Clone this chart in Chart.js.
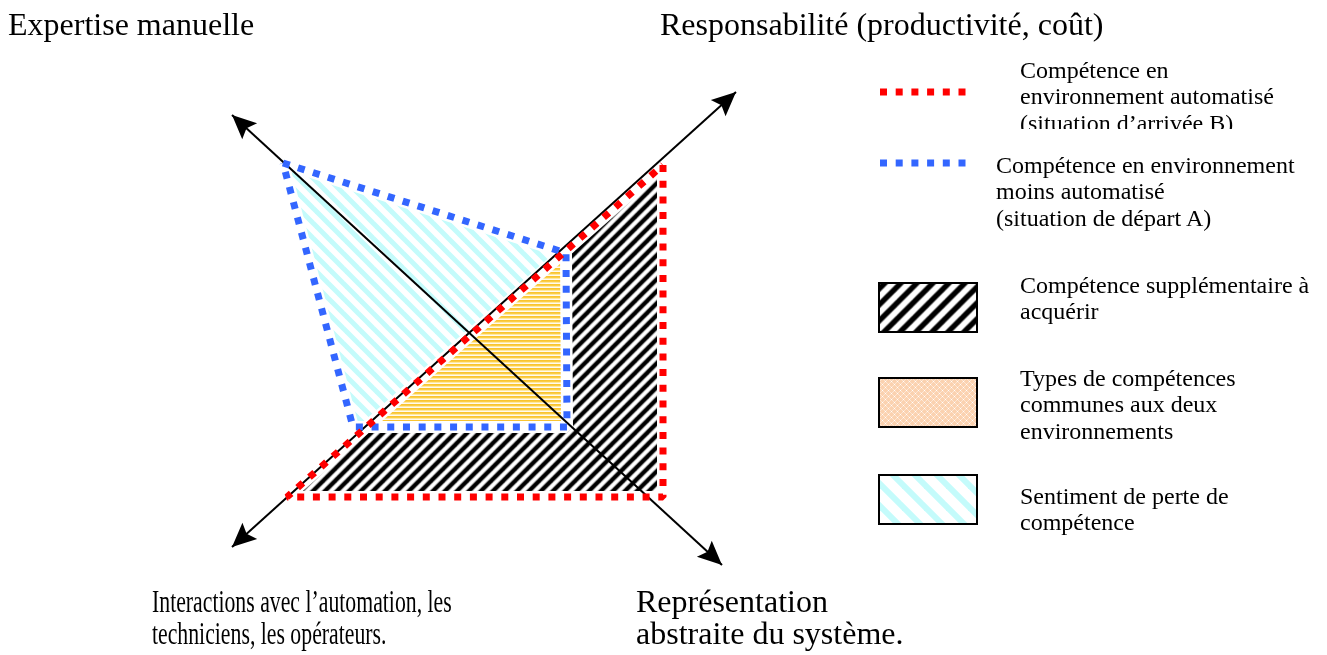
<!DOCTYPE html>
<html><head><meta charset="utf-8">
<script src="https://cdn.jsdelivr.net/npm/chart.js@4.4.1/dist/chart.umd.min.js"></script>
<style>
html,body{margin:0;padding:0;background:#fff;}
#wrap{position:relative;width:1327px;height:655px;overflow:hidden;font-family:"Liberation Serif","Times New Roman",serif;color:#000;}
#c{position:absolute;left:0;top:0;}
.lbl{position:absolute;font-size:32px;line-height:32px;white-space:pre;}
.leg{position:absolute;font-size:24px;line-height:26.3px;white-space:pre;overflow:hidden;}
</style></head><body>
<div id="wrap"><canvas id="c" width="1327" height="655"></canvas></div>
<script>
// ---------- data (units along the diagram plane, origin at the crossing of the axes) ----------
const axisLabels = [
  "Expertise manuelle",
  "Responsabilité (productivité, coût)",
  "Interactions avec l’automation, les\ntechniciens, les opérateurs.",
  "Représentation\nabstraite du système."
];
const legendLabels = [
  "Compétence en\nenvironnement automatisé\n(situation d’arrivée B)",
  "Compétence en environnement\nmoins automatisé\n(situation de départ A)",
  "Compétence supplémentaire à\nacquérir",
  "Types de compétences\ncommunes aux deux\nenvironnements",
  "Sentiment de perte de\ncompétence"
];
// axis "Expertise manuelle" <-> "Représentation abstraite"
const axisExpertiseRepresentation = [{x:-23.7, y:21.8}, {x:25.3, y:-23.2}];
// axis "Interactions" <-> "Responsabilité"
const axisInteractionsResponsabilite = [{x:-23.7, y:-21.4}, {x:26.7, y:24.1}];
// situation d'arrivée B (automatisé)
const situationB = [{x:19.4, y:16.8}, {x:19.4, y:-16.4}, {x:-18.2, y:-16.4}, {x:19.4, y:16.8}];
// situation de départ A (moins automatisé)
const situationA = [{x:-18.6, y:17.0}, {x:9.7, y:8.0}, {x:9.8, y:-9.4}, {x:-11.6, y:-9.4}, {x:-18.6, y:17.0}];
// compétences communes (A ∩ B)
const communes = [{x:9.7, y:8.2}, {x:9.8, y:-9.4}, {x:-10.3, y:-9.4}, {x:9.7, y:8.2}];

// ---------- text layout ----------
const wrap = document.getElementById('wrap');
const labelPos = [
  {left:8, top:8, sx:1}, {left:660, top:8, sx:1}, {left:152, top:585, sx:0.68}, {left:636, top:585, sx:1}
];
axisLabels.forEach((t,i)=>{
  const d=document.createElement('div'); d.className='lbl'; d.textContent=t;
  d.style.left=labelPos[i].left+'px'; d.style.top=labelPos[i].top+'px';
  if(labelPos[i].sx!==1){d.style.transform='scaleX('+labelPos[i].sx+')'; d.style.transformOrigin='0 0';}
  wrap.appendChild(d);
});
const legendPos = [
  {left:1020, top:57, h:72}, {left:996, top:152}, {left:1020, top:272}, {left:1020, top:365}, {left:1020, top:483}
];
legendLabels.forEach((t,i)=>{
  const d=document.createElement('div'); d.className='leg'; d.textContent=t;
  d.style.left=legendPos[i].left+'px'; d.style.top=legendPos[i].top+'px';
  if(legendPos[i].h) d.style.height=legendPos[i].h+'px';
  wrap.appendChild(d);
});

// ---------- patterns ----------
const cv = document.getElementById('c');
const ctx = cv.getContext('2d');
function stripes(size, dir, color, width, bg, soft){
  const c=document.createElement('canvas'); c.width=c.height=size; const x=c.getContext('2d');
  x.fillStyle=bg; x.fillRect(0,0,size,size);
  const pass=(col,w)=>{ x.strokeStyle=col; x.lineWidth=w;
    for(let k=-2;k<=2;k++){ x.beginPath();
      if(dir==='/'){x.moveTo(k*size-size,2*size);x.lineTo(k*size+2*size,-size);}
      else {x.moveTo(k*size-size,-size);x.lineTo(k*size+2*size,2*size);}
      x.stroke(); } };
  if(soft) pass(soft, width+2);
  pass(color, width);
  return ctx.createPattern(c,'repeat');
}
function hlines(){
  const c=document.createElement('canvas'); c.width=4; c.height=4; const x=c.getContext('2d');
  const rows=['#f9c431','#fbcd45','#ffe9a0','#fffaf0'];
  rows.forEach((r,i)=>{x.fillStyle=r; x.fillRect(0,i,4,1);});
  return ctx.createPattern(c,'repeat');
}
function peach(){
  const c=document.createElement('canvas'); c.width=6; c.height=6; const x=c.getContext('2d');
  x.fillStyle='#fbd2b0'; x.fillRect(0,0,6,6);
  x.fillStyle='#ffffff'; x.fillRect(0,0,1,1); x.fillRect(3,3,1,1);
  x.fillStyle='#fde6d4'; x.fillRect(1,1,1,1); x.fillRect(2,2,1,1); x.fillRect(4,4,1,1); x.fillRect(5,5,1,1);
  x.fillRect(1,5,1,1); x.fillRect(2,4,1,1); x.fillRect(4,2,1,1); x.fillRect(5,1,1,1);
  return ctx.createPattern(c,'repeat');
}
const blackHatch = stripes(12,'/','#000',3.4,'#fff','#8a8a8a');
const cyanHatch = stripes(15,'\\','#c4fbfb',5,'#fff');
const yellowLines = hlines();
const blackHatchLeg = stripes(16,'/','#000',4.5,'#fff','#8a8a8a');
const cyanHatchLeg = stripes(22,'\\','#c4fbfb',6,'#fff');
const peachLeg = peach();

const RED='#ff0000', BLUE='#3366ff';
const DASH=[7,8.7];
const DOT_W=7;

// ---------- plugins ----------
const arrowPlugin = {
  id:'arrows',
  afterDatasetsDraw(chart){
    const c=chart.ctx;
    chart.data.datasets.forEach((ds,i)=>{
      if(!ds.isAxis) return;
      const pts=chart.getDatasetMeta(i).data;
      const a=pts[0], b=pts[pts.length-1];
      [[b,a],[a,b]].forEach(([from,to])=>{
        const ang=Math.atan2(to.y-from.y,to.x-from.x);
        const L=24, W=11;
        c.save(); c.fillStyle='#000'; c.beginPath();
        c.moveTo(to.x,to.y);
        c.lineTo(to.x-L*Math.cos(ang)+W*Math.sin(ang), to.y-L*Math.sin(ang)-W*Math.cos(ang));
        c.lineTo(to.x-L*0.82*Math.cos(ang), to.y-L*0.82*Math.sin(ang));
        c.lineTo(to.x-L*Math.cos(ang)-W*Math.sin(ang), to.y-L*Math.sin(ang)+W*Math.cos(ang));
        c.closePath(); c.fill(); c.restore();
      });
    });
  }
};
const legendPlugin = {
  id:'swatches',
  afterDraw(chart){
    const c=chart.ctx; c.save();
    [[RED,92],[BLUE,163]].forEach(([col,y])=>{
      c.strokeStyle=col; c.lineWidth=DOT_W; c.setLineDash(DASH); c.lineCap='butt';
      c.beginPath(); c.moveTo(880,y); c.lineTo(972,y); c.stroke();
    });
    c.setLineDash([]);
    [[blackHatchLeg,283],[peachLeg,378],[cyanHatchLeg,475]].forEach(([p,y])=>{
      c.fillStyle=p; c.fillRect(879,y,98,49);
      c.strokeStyle='#000'; c.lineWidth=2; c.strokeRect(879,y,98,49);
    });
    c.restore();
  }
};

// ---------- chart ----------
const poly = (data, extra) => Object.assign({
  data, showLine:true, pointRadius:0, pointHoverRadius:0, tension:0, borderJoinStyle:'bevel'
}, extra);

new Chart(ctx, {
  type:'scatter',
  data:{ datasets:[
    poly(situationB, {label:'Compétence supplémentaire à acquérir', order:10, fill:'shape', backgroundColor:blackHatch, borderWidth:0, borderColor:'rgba(0,0,0,0)'}),
    poly(situationA, {label:'Sentiment de perte de compétence', order:9, fill:'shape', backgroundColor:cyanHatch, borderWidth:0, borderColor:'rgba(0,0,0,0)'}),
    poly(communes, {label:'Types de compétences communes', order:8, fill:'shape', backgroundColor:yellowLines, borderWidth:0, borderColor:'rgba(0,0,0,0)'}),
    poly(situationA, {label:'halo A', order:7, fill:false, borderColor:'#fff', borderWidth:12}),
    poly(situationB, {label:'halo B', order:7, fill:false, borderColor:'#fff', borderWidth:12}),
    poly(axisExpertiseRepresentation, {label:'axe 1', order:6, fill:false, borderColor:'#000', borderWidth:2, isAxis:true}),
    poly(axisInteractionsResponsabilite, {label:'axe 2', order:6, fill:false, borderColor:'#000', borderWidth:2, isAxis:true}),
    poly(situationA, {label:'Compétence en environnement moins automatisé (A)', order:5, fill:false, borderColor:BLUE, borderWidth:DOT_W, borderDash:DASH, borderCapStyle:'butt'}),
    poly(situationB, {label:'Compétence en environnement automatisé (B)', order:4, fill:false, borderColor:RED, borderWidth:DOT_W, borderDash:DASH, borderCapStyle:'butt'})
  ]},
  options:{
    responsive:false, animation:false, devicePixelRatio:1,
    layout:{padding:0},
    plugins:{legend:{display:false}, tooltip:{enabled:false}, filler:{propagate:false}},
    events:[],
    scales:{
      x:{type:'linear', display:false, min:-46.9, max:85.8, bounds:'data'},
      y:{type:'linear', display:false, min:-32.2, max:33.3, bounds:'data'}
    }
  },
  plugins:[arrowPlugin, legendPlugin]
});
</script>
</body></html>
